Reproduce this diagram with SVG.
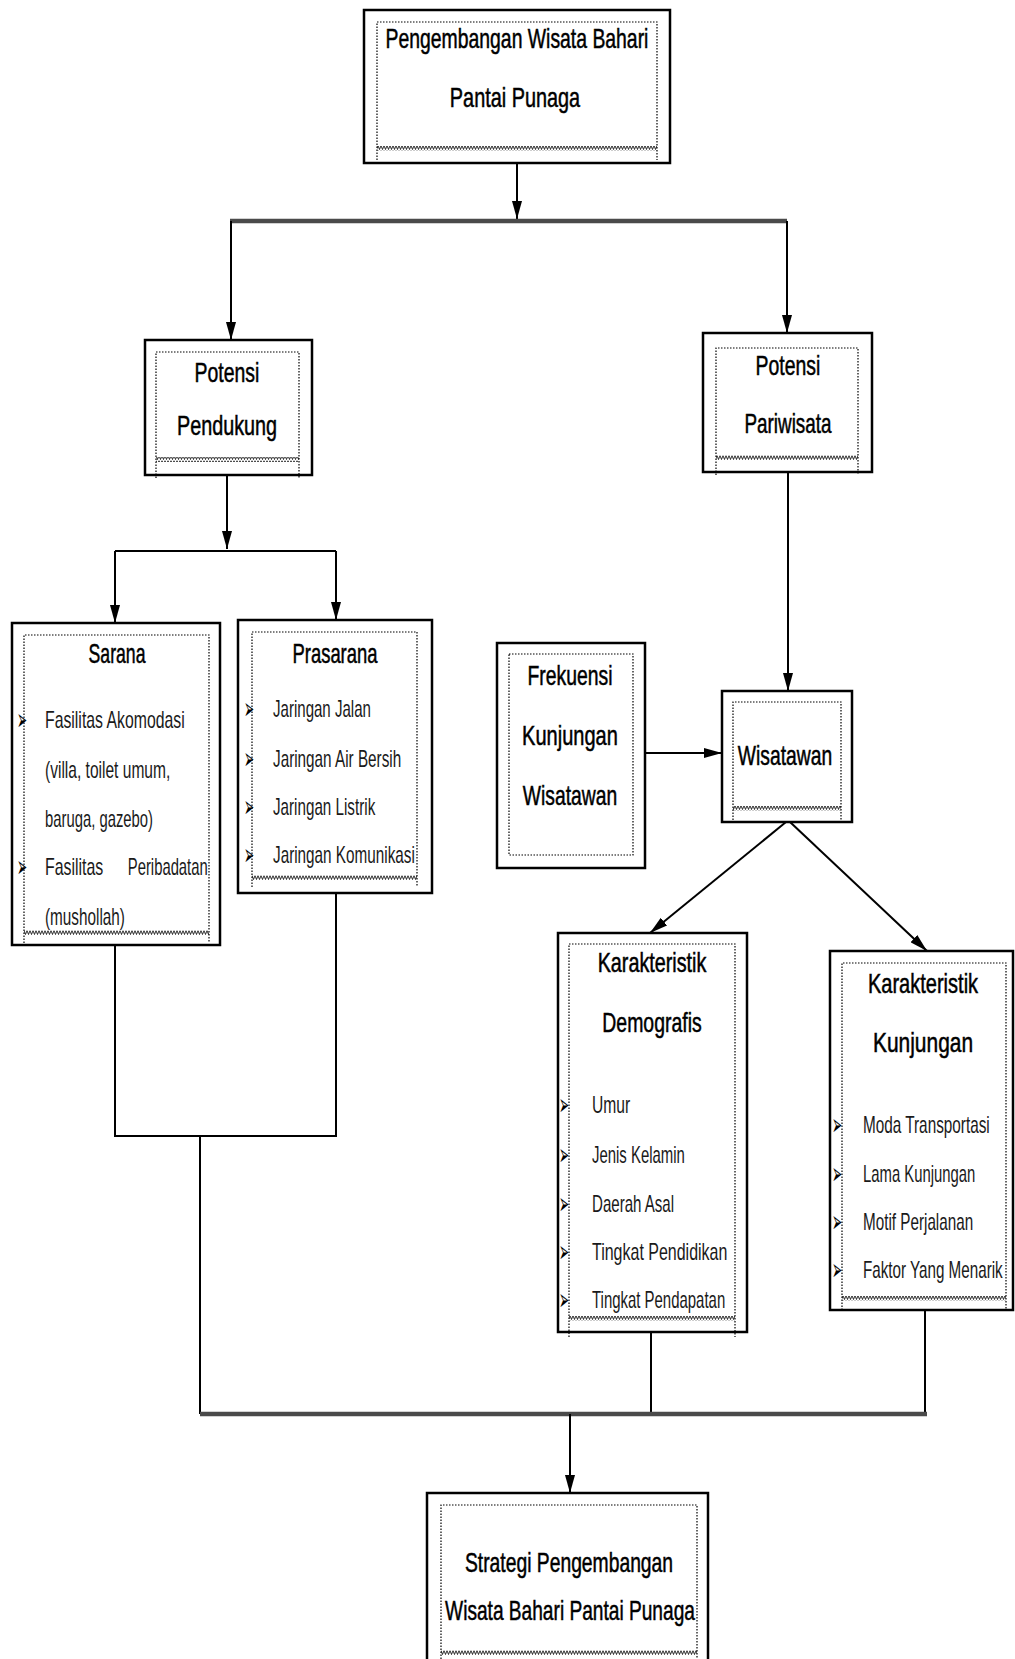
<svg xmlns="http://www.w3.org/2000/svg" width="1015" height="1659" viewBox="0 0 1015 1659">
<style>
.box{fill:#fff;stroke:#000;stroke-width:2.5}
.dot{fill:none;stroke:#000;stroke-width:1.2;stroke-dasharray:1.5 1.5}
.zz{fill:url(#zig);stroke:none}
.c{fill:none;stroke:#000;stroke-width:2}
.thick{fill:none;stroke:#4a4a4a;stroke-width:4.5}
.t{font-family:"Liberation Sans",Arial,sans-serif;font-size:27px;fill:#000;stroke:#000;stroke-width:0.5;text-anchor:middle}
.i{font-family:"Liberation Sans",Arial,sans-serif;font-size:23px;fill:#1a1a1a}
.b{font-family:"DejaVu Sans",sans-serif;font-size:30px;fill:#000}
</style>
<defs>
<pattern id="zig" width="3" height="5" patternUnits="userSpaceOnUse">
<path d="M0,0.5 L1.5,4.5 L3,0.5" fill="none" stroke="#000" stroke-width="0.8"/>
</pattern>
<marker id="arr" viewBox="0 0 18 10" refX="18" refY="5" markerWidth="18" markerHeight="10" markerUnits="userSpaceOnUse" orient="auto">
<path d="M0,0 L18,5 L0,10 z" fill="#000"/>
</marker>
</defs>

<g id="connectors">
<path class="c" d="M517,163 V219" marker-end="url(#arr)"/>
<path class="thick" d="M230,221 H787"/>
<path class="c" d="M231,221 V340" marker-end="url(#arr)"/>
<path class="c" d="M787,221 V333" marker-end="url(#arr)"/>
<path class="c" d="M227,475 V549" marker-end="url(#arr)"/>
<path class="c" d="M115,551 H336"/>
<path class="c" d="M115,551 V623" marker-end="url(#arr)"/>
<path class="c" d="M336,551 V620" marker-end="url(#arr)"/>
<path class="c" d="M645,753 H722" marker-end="url(#arr)"/>
<path class="c" d="M788,472 V691" marker-end="url(#arr)"/>
<path class="c" d="M786,822 L650,933" marker-end="url(#arr)"/>
<path class="c" d="M790,822 L927,951" marker-end="url(#arr)"/>
<path class="c" d="M115,945 V1136 H336 V893"/>
<path class="c" d="M200,1136 V1414"/>
<path class="c" d="M651,1332 V1414"/>
<path class="c" d="M925,1310 V1414"/>
<path class="thick" d="M200,1414 H927"/>
<path class="c" d="M570,1414 V1493" marker-end="url(#arr)"/>
</g>

<g id="node-pengembangan">
<rect class="box" x="364" y="10" width="306" height="153"/>
<path class="dot" d="M377,160 V22 H657 V160"/>
<rect class="zz" x="377" y="146" width="280" height="5"/>
<text class="t" transform="translate(517,48) scale(0.72,1)" textLength="365" lengthAdjust="spacingAndGlyphs">Pengembangan Wisata Bahari</text>
<text class="t" transform="translate(515,107) scale(0.72,1)" textLength="181" lengthAdjust="spacingAndGlyphs">Pantai Punaga</text>
</g>

<g id="node-pendukung">
<rect class="box" x="145" y="340" width="167" height="135"/>
<path class="dot" d="M156,478 V352 H299 V478"/>
<rect class="zz" x="156" y="457" width="143" height="5"/>
<text class="t" transform="translate(227,382) scale(0.72,1)" textLength="90" lengthAdjust="spacingAndGlyphs">Potensi</text>
<text class="t" transform="translate(227,435) scale(0.72,1)" textLength="139" lengthAdjust="spacingAndGlyphs">Pendukung</text>
</g>

<g id="node-pariwisata">
<rect class="box" x="703" y="333" width="169" height="139"/>
<path class="dot" d="M716,475 V348 H858 V475"/>
<rect class="zz" x="716" y="455" width="142" height="5"/>
<text class="t" transform="translate(788,375) scale(0.72,1)" textLength="90" lengthAdjust="spacingAndGlyphs">Potensi</text>
<text class="t" transform="translate(788,433) scale(0.72,1)" textLength="121" lengthAdjust="spacingAndGlyphs">Pariwisata</text>
</g>

<g id="node-sarana">
<rect class="box" x="12" y="623" width="208" height="322"/>
<path class="dot" d="M24,943 V635 H209 V943"/>
<rect class="zz" x="24" y="930" width="185" height="5"/>
<text class="t" transform="translate(117,663) scale(0.72,1)" textLength="79" lengthAdjust="spacingAndGlyphs">Sarana</text>
<text class="b" transform="translate(17,730) scale(0.4,1)">➢</text>
<text class="i" transform="translate(45,728) scale(0.72,1)" textLength="194" lengthAdjust="spacingAndGlyphs">Fasilitas Akomodasi</text>
<text class="i" transform="translate(45,778) scale(0.72,1)" textLength="174" lengthAdjust="spacingAndGlyphs">(villa, toilet umum,</text>
<text class="i" transform="translate(45,827) scale(0.72,1)" textLength="150" lengthAdjust="spacingAndGlyphs">baruga, gazebo)</text>
<text class="b" transform="translate(17,877) scale(0.4,1)">➢</text>
<text class="i" transform="translate(45,875) scale(0.72,1)"><tspan x="0" textLength="81" lengthAdjust="spacingAndGlyphs">Fasilitas</tspan> <tspan x="115" textLength="111" lengthAdjust="spacingAndGlyphs">Peribadatan</tspan></text>
<text class="i" transform="translate(45,925) scale(0.72,1)" textLength="111" lengthAdjust="spacingAndGlyphs">(mushollah)</text>
</g>

<g id="node-prasarana">
<rect class="box" x="238" y="620" width="194" height="273"/>
<path class="dot" d="M252,887 V632 H417 V887"/>
<rect class="zz" x="252" y="875" width="165" height="5"/>
<text class="t" transform="translate(335,663) scale(0.72,1)" textLength="118" lengthAdjust="spacingAndGlyphs">Prasarana</text>
<text class="b" transform="translate(244,719) scale(0.4,1)">➢</text>
<text class="i" transform="translate(273,717) scale(0.72,1)" textLength="136" lengthAdjust="spacingAndGlyphs">Jaringan Jalan</text>
<text class="b" transform="translate(244,769) scale(0.4,1)">➢</text>
<text class="i" transform="translate(273,767) scale(0.72,1)" textLength="178" lengthAdjust="spacingAndGlyphs">Jaringan Air Bersih</text>
<text class="b" transform="translate(244,817) scale(0.4,1)">➢</text>
<text class="i" transform="translate(273,815) scale(0.72,1)" textLength="142" lengthAdjust="spacingAndGlyphs">Jaringan Listrik</text>
<text class="b" transform="translate(244,865) scale(0.4,1)">➢</text>
<text class="i" transform="translate(273,863) scale(0.72,1)" textLength="197" lengthAdjust="spacingAndGlyphs">Jaringan Komunikasi</text>
</g>

<g id="node-frekuensi">
<rect class="box" x="497" y="643" width="148" height="225"/>
<rect class="dot" x="509" y="654" width="124" height="201"/>
<text class="t" transform="translate(570,685) scale(0.72,1)" textLength="118" lengthAdjust="spacingAndGlyphs">Frekuensi</text>
<text class="t" transform="translate(570,745) scale(0.72,1)" textLength="133" lengthAdjust="spacingAndGlyphs">Kunjungan</text>
<text class="t" transform="translate(570,805) scale(0.72,1)" textLength="131" lengthAdjust="spacingAndGlyphs">Wisatawan</text>
</g>

<g id="node-wisatawan">
<rect class="box" x="722" y="691" width="130" height="131"/>
<path class="dot" d="M733,823 V702 H841 V823"/>
<rect class="zz" x="733" y="806" width="108" height="5"/>
<text class="t" transform="translate(785,765) scale(0.72,1)" textLength="131" lengthAdjust="spacingAndGlyphs">Wisatawan</text>
</g>

<g id="node-demografis">
<rect class="box" x="558" y="933" width="189" height="399"/>
<path class="dot" d="M569,1337 V944 H735 V1337"/>
<rect class="zz" x="569" y="1316" width="166" height="5"/>
<text class="t" transform="translate(652,972) scale(0.72,1)" textLength="151" lengthAdjust="spacingAndGlyphs">Karakteristik</text>
<text class="t" transform="translate(652,1032) scale(0.72,1)" textLength="138" lengthAdjust="spacingAndGlyphs">Demografis</text>
<text class="b" transform="translate(559,1115) scale(0.4,1)">➢</text>
<text class="i" transform="translate(592,1113) scale(0.72,1)" textLength="53" lengthAdjust="spacingAndGlyphs">Umur</text>
<text class="b" transform="translate(559,1165) scale(0.4,1)">➢</text>
<text class="i" transform="translate(592,1163) scale(0.72,1)" textLength="129" lengthAdjust="spacingAndGlyphs">Jenis Kelamin</text>
<text class="b" transform="translate(559,1214) scale(0.4,1)">➢</text>
<text class="i" transform="translate(592,1212) scale(0.72,1)" textLength="114" lengthAdjust="spacingAndGlyphs">Daerah Asal</text>
<text class="b" transform="translate(559,1262) scale(0.4,1)">➢</text>
<text class="i" transform="translate(592,1260) scale(0.72,1)" textLength="188" lengthAdjust="spacingAndGlyphs">Tingkat Pendidikan</text>
<text class="b" transform="translate(559,1310) scale(0.4,1)">➢</text>
<text class="i" transform="translate(592,1308) scale(0.72,1)" textLength="185" lengthAdjust="spacingAndGlyphs">Tingkat Pendapatan</text>
</g>

<g id="node-kunjungan">
<rect class="box" x="830" y="951" width="183" height="359"/>
<path class="dot" d="M842,1310 V963 H1006 V1310"/>
<rect class="zz" x="842" y="1296" width="164" height="5"/>
<text class="t" transform="translate(923,993) scale(0.72,1)" textLength="153" lengthAdjust="spacingAndGlyphs">Karakteristik</text>
<text class="t" transform="translate(923,1052) scale(0.72,1)" textLength="139" lengthAdjust="spacingAndGlyphs">Kunjungan</text>
<text class="b" transform="translate(832,1135) scale(0.4,1)">➢</text>
<text class="i" transform="translate(863,1133) scale(0.72,1)" textLength="176" lengthAdjust="spacingAndGlyphs">Moda Transportasi</text>
<text class="b" transform="translate(832,1184) scale(0.4,1)">➢</text>
<text class="i" transform="translate(863,1182) scale(0.72,1)" textLength="156" lengthAdjust="spacingAndGlyphs">Lama Kunjungan</text>
<text class="b" transform="translate(832,1232) scale(0.4,1)">➢</text>
<text class="i" transform="translate(863,1230) scale(0.72,1)" textLength="153" lengthAdjust="spacingAndGlyphs">Motif Perjalanan</text>
<text class="b" transform="translate(832,1280) scale(0.4,1)">➢</text>
<text class="i" transform="translate(863,1278) scale(0.72,1)" textLength="194" lengthAdjust="spacingAndGlyphs">Faktor Yang Menarik</text>
</g>

<g id="node-strategi">
<rect class="box" x="427" y="1493" width="281" height="200"/>
<path class="dot" d="M441,1659 V1505 H697 V1659"/>
<rect class="zz" x="441" y="1650" width="256" height="5"/>
<text class="t" transform="translate(569,1572) scale(0.72,1)" textLength="289" lengthAdjust="spacingAndGlyphs">Strategi Pengembangan</text>
<text class="t" transform="translate(570,1620) scale(0.72,1)" textLength="347" lengthAdjust="spacingAndGlyphs">Wisata Bahari Pantai Punaga</text>
</g>
</svg>
